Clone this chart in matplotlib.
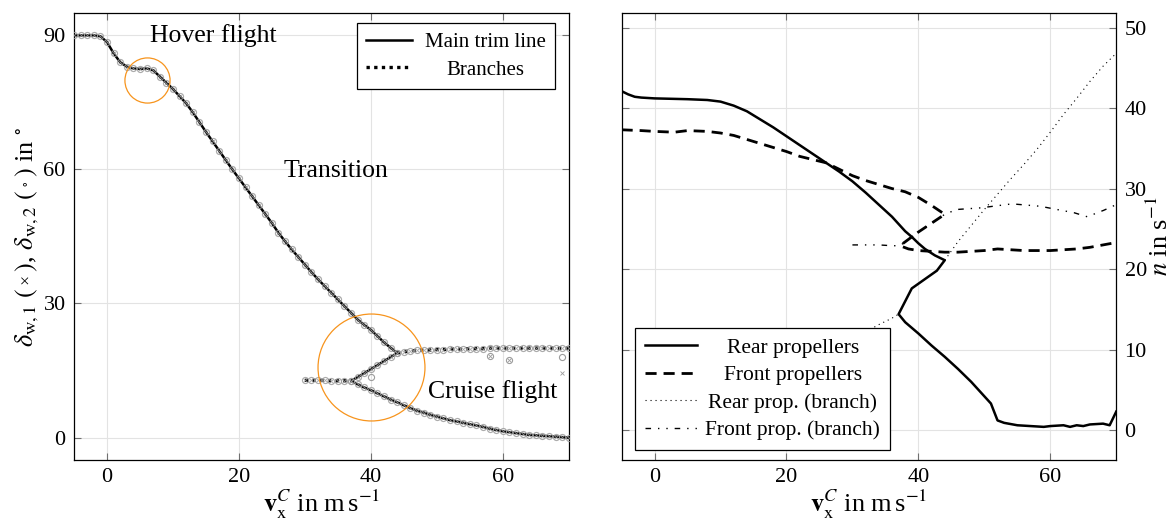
import numpy as np
import matplotlib
matplotlib.use("Agg")
import matplotlib.pyplot as plt

plt.rcParams['font.family'] = 'serif'
plt.rcParams['font.serif'] = ['Liberation Serif', 'DejaVu Serif']
plt.rcParams['mathtext.fontset'] = 'stix'

# -----------------------------------------------------------
# DATA - left plot (wing tilt angle trim line)
# -----------------------------------------------------------
v_main = [-5, -4, -3, -2, -1, 0, 1, 2, 3, 4, 5, 6, 7, 8, 9, 10, 11, 12, 13, 14,
          15, 16, 17, 18, 19, 20, 21, 22, 23, 24, 25, 26, 27, 28, 29, 30, 31, 32,
          33, 34, 35, 36, 37, 38, 39, 40, 41, 42, 43, 44,
          43, 42, 41, 40, 39, 38, 37,
          38, 39, 40, 41, 42, 43, 44, 45, 46, 47, 48, 49, 50, 51, 52, 53, 54, 55,
          56, 57, 58, 59, 60, 61, 62, 63, 64, 65, 66, 67, 68, 69, 70]
delta_main = [90, 90, 90, 90, 89.8, 88.5, 86, 84, 83, 82.6, 82.5, 82.6, 82.2, 80.8,
              79.4, 78, 76.4, 74.8, 72.8, 70.6, 68.4, 66.3, 64.2, 62.1, 60, 58, 56,
              54, 52, 50, 48, 45.8, 43.9, 42.1, 40.4, 38.7, 37.0, 35.4, 33.9, 32.4,
              30.9, 29.4, 27.9, 26.4, 25.2, 24.1, 22.7, 21.3, 20.1, 18.9,
              18.0, 17.1, 16.2, 15.3, 14.4, 13.5, 12.7,
              11.9, 11.2, 10.6, 9.9, 9.2, 8.5, 7.9, 7.2, 6.6, 6.0, 5.6, 5.1, 4.7, 4.3,
              3.9, 3.6, 3.3, 3.0, 2.7, 2.4, 2.0, 1.7, 1.4, 1.2, 1.0, 0.8, 0.6, 0.5,
              0.4, 0.3, 0.2, 0.1, 0.0]

v_branch_low = [30, 31, 32, 33, 34, 35, 36, 37]
delta_branch_low = [12.8, 12.8, 12.8, 12.8, 12.7, 12.7, 12.7, 12.7]
v_branch_up = [44, 45, 46, 47, 48, 49, 50, 51, 52, 53, 54, 55, 56, 57, 58, 59, 60,
               61, 62, 63, 64, 65, 66, 67, 68, 69, 70]
delta_branch_up = [18.9, 19.2, 19.4, 19.5, 19.6, 19.6, 19.7, 19.7, 19.8, 19.8, 19.8,
                   19.9, 19.9, 19.9, 20, 20, 20, 20, 20, 20, 20, 20, 20, 20, 20, 20, 20]

# a few scattered solutions off the branches
v_out_o = [40, 58, 61, 69]
delta_out_o = [13.6, 18.2, 17.4, 18.0]
v_out_x = [58, 61, 69]
delta_out_x = [18.2, 17.4, 14.5]

# highlighted regions
circle_v = [6.1, 40]
circle_delta = [80, 15.8]
circle_size = [32.5, 77]

# -----------------------------------------------------------
# DATA - right plot (propeller speeds)
# -----------------------------------------------------------
v_rear = [-5, -4, -3, -2, 0, 5, 8, 10, 12, 14, 16, 18, 20, 22, 24, 26, 28, 30, 32,
          34, 36, 38, 39, 40, 41, 42.5, 44,
          42.8, 39, 37,
          38, 40, 42, 44, 46, 48, 50, 51, 52, 53, 55, 57, 59, 60, 62, 63, 64, 65,
          66, 68, 69, 70]
n_rear = [42.1, 41.7, 41.4, 41.3, 41.2, 41.1, 41.0, 40.8, 40.3, 39.6, 38.6, 37.6,
          36.5, 35.4, 34.3, 33.2, 32.1, 30.9, 29.5, 28.0, 26.5, 24.7, 24.0, 23.2,
          22.5, 21.7, 21.1,
          19.8, 17.6, 14.4,
          13.4, 12.0, 10.5, 9.1, 7.6, 6.0, 4.2, 3.3, 1.2, 0.9, 0.6, 0.5, 0.4, 0.5,
          0.6, 0.4, 0.6, 0.5, 0.7, 0.8, 0.6, 2.3]

v_front = [-5, -2, 0, 3, 5, 8, 10, 12, 14, 16, 18, 20, 22, 24, 26, 28, 30, 32, 34,
           36, 38, 40, 42, 44,
           40, 37.2,
           38.5, 40, 42, 44, 46, 48, 50, 52, 54, 56, 58, 60, 62, 64, 66, 68, 70]
n_front = [37.3, 37.2, 37.1, 37.0, 37.2, 37.1, 36.9, 36.6, 36.1, 35.6, 35.1, 34.6,
           34.0, 33.6, 33.2, 32.4, 31.6, 31.0, 30.5, 30.0, 29.6, 28.9, 27.9, 26.8,
           24.6, 22.9,
           22.5, 22.3, 22.2, 22.1, 22.1, 22.2, 22.3, 22.5, 22.4, 22.3, 22.3, 22.3,
           22.4, 22.5, 22.7, 23.0, 23.3]

v_rear_br = [30, 32, 34, 36, 37, None, 44, 46, 48, 50, 52, 54, 56, 58, 60, 62, 64,
             66, 68, 70]
n_rear_br = [11.3, 12.2, 13.1, 13.9, 14.4, None, 21.1, 23.4, 25.4, 27.4, 29.3, 31.2,
             33.0, 34.9, 37.0, 39.2, 41.2, 43.3, 45.2, 46.8]

v_front_br = [30, 32, 34, 36, 37.2, 40, 44, 45.8, 49.4, 54.2, 58.5, 61, 63.6, 65.6,
              68.1, 70]
n_front_br = [23.0, 23.0, 23.0, 22.9, 22.9, 24.6, 26.8, 27.4, 27.6, 28.1, 27.8, 27.4,
              27.0, 26.5, 27.3, 28.0]

# -----------------------------------------------------------
# FIGURE
# -----------------------------------------------------------
fig = plt.figure(figsize=(11.75, 5.22), dpi=100)
ax1 = fig.add_axes([0.063, 0.119, 0.421, 0.856])
ax2 = fig.add_axes([0.529, 0.119, 0.421, 0.856])

grey = '#9c9c9c'
orange = '#f7941d'
LFS = 19


def style_axes(ax):
    ax.grid(True, color='#e3e3e3', linewidth=0.8)
    ax.set_axisbelow(True)
    ax.tick_params(direction='in', length=5, width=0.8, color='#707070',
                   top=True, right=True, labelsize=16, pad=6)
    for sp in ax.spines.values():
        sp.set_linewidth(0.9)


def center_legend_text(leg):
    fig.canvas.draw()
    r = fig.canvas.get_renderer()
    texts = leg.get_texts()
    widths = [t.get_window_extent(r).width for t in texts]
    wmax = max(widths)
    for t, w in zip(texts, widths):
        t.set_position(((wmax - w) / 2.0, 0))


# ---- left plot
style_axes(ax1)
ax1.plot(v_branch_low, delta_branch_low, color='k', lw=2.4, ls=(0, (1, 1.3)), zorder=3)
ax1.plot(v_branch_up, delta_branch_up, color='k', lw=2.4, ls=(0, (1, 1.3)), zorder=3)
ax1.plot(v_main, delta_main, color='k', lw=1.8, zorder=3)
for vv, dd in [(v_main, delta_main), (v_branch_low, delta_branch_low),
               (v_branch_up, delta_branch_up)]:
    ax1.plot(vv, dd, ls='none', marker='o', ms=4.4, mfc='none', mec=grey, mew=0.8,
             alpha=0.85, zorder=4)
    ax1.plot(vv, dd, ls='none', marker='x', ms=2.6, mec=grey, mew=0.6, alpha=0.85,
             zorder=4)
ax1.plot(v_out_o, delta_out_o, ls='none', marker='o', ms=4.4, mfc='none', mec=grey,
         mew=0.8, zorder=4)
ax1.plot(v_out_x, delta_out_x, ls='none', marker='x', ms=2.6, mec=grey, mew=0.6,
         zorder=4)
for cv, cd, cs in zip(circle_v, circle_delta, circle_size):
    ax1.plot([cv], [cd], ls='none', marker='o', ms=cs, mfc='none', mec=orange,
             mew=0.9, zorder=5)

ax1.text(16.1, 90, 'Hover flight', fontsize=18.5, ha='center', va='center')
ax1.text(34.7, 59.6, 'Transition', fontsize=18.5, ha='center', va='center')
ax1.text(58.5, 10.3, 'Cruise flight', fontsize=18.5, ha='center', va='center')

ax1.set_xlim(-5, 70)
ax1.set_ylim(-5, 95)
ax1.set_xticks([0, 20, 40, 60])
ax1.set_yticks([0, 30, 60, 90])
ax1.set_xlabel(r'$\mathbf{v}_{\mathrm{x}}^{C}$ in m$\,$s$^{-1}$', fontsize=LFS, labelpad=0)
ax1.set_ylabel(r'$\delta_{\mathrm{w},1}$ $(\,{}_{{}^{\times}}\,)$, '
               r'$\delta_{\mathrm{w},2}$ $(\,{}_{{}^{\circ}}\,)$ in $^{\circ}$',
               fontsize=LFS, labelpad=2)

h1, = ax1.plot([], [], color='k', lw=1.8)
h2, = ax1.plot([], [], color='k', lw=2.4, ls=(0, (1, 1.3)))
leg1 = ax1.legend([h1, h2], ['Main trim line', 'Branches'], loc='upper right',
                  bbox_to_anchor=(0.972, 0.978), borderaxespad=0, fontsize=15,
                  fancybox=False, framealpha=1, edgecolor='k', handlelength=2.2,
                  handletextpad=0.6, borderpad=0.45, labelspacing=0.4)
leg1.get_frame().set_linewidth(0.9)

# ---- right plot
style_axes(ax2)
ax2.plot(v_rear, n_rear, color='k', lw=1.8)
ax2.plot(v_front, n_front, color='k', lw=2.0, ls=(0, (4, 2.5)))
ax2.plot([np.nan if v is None else v for v in v_rear_br],
         [np.nan if n is None else n for n in n_rear_br],
         color='k', lw=0.8, ls=(0, (1, 3.5)))
ax2.plot(v_front_br, n_front_br, color='k', lw=1.0, ls=(0, (4, 5, 1, 5, 1, 5)))

ax2.set_xlim(-5, 70)
ax2.set_ylim(-3.7, 51.8)
ax2.set_xticks([0, 20, 40, 60])
ax2.set_yticks([0, 10, 20, 30, 40, 50])
ax2.yaxis.tick_right()
ax2.tick_params(left=True, right=True, labelleft=False, labelright=True)
ax2.yaxis.set_label_position('right')
ax2.set_xlabel(r'$\mathbf{v}_{\mathrm{x}}^{C}$ in m$\,$s$^{-1}$', fontsize=LFS, labelpad=0)
ax2.set_ylabel(r'$n$ in s$^{-1}$', fontsize=LFS, labelpad=0)

hr1, = ax2.plot([], [], color='k', lw=1.8)
hr2, = ax2.plot([], [], color='k', lw=2.0, ls=(0, (4, 2.5)))
hr3, = ax2.plot([], [], color='k', lw=0.8, ls=(0, (1, 3.5)))
hr4, = ax2.plot([], [], color='k', lw=1.0, ls=(0, (4, 5, 1, 5, 1, 5)))
leg2 = ax2.legend([hr1, hr2, hr3, hr4],
                  ['Rear propellers', 'Front propellers', 'Rear prop. (branch)',
                   'Front prop. (branch)'],
                  loc='lower left', bbox_to_anchor=(0.028, 0.022), borderaxespad=0,
                  fontsize=15.5, fancybox=False, framealpha=1, edgecolor='k',
                  handlelength=2.4, handletextpad=0.4, borderpad=0.45,
                  labelspacing=0.35)
leg2.get_frame().set_linewidth(0.9)

center_legend_text(leg1)
center_legend_text(leg2)

fig.savefig('out.png', dpi=100)
